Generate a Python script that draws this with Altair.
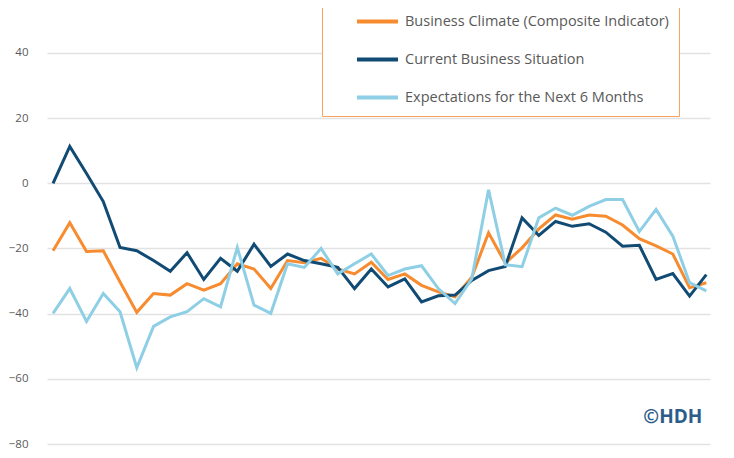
import altair as alt
import pandas as pd

series_names = [
    "Business Climate (Composite Indicator)",
    "Current Business Situation",
    "Expectations for the Next 6 Months",
]
series_colors = ["#F78B2F", "#114B74", "#8ECFE6"]

business_climate = [
    -20.7, -12.1, -20.9, -20.7, -30.3, -39.6, -33.8, -34.3, -30.8, -32.8,
    -30.8, -24.7, -26.3, -32.3, -23.7, -24.4, -23.0, -26.3, -27.8, -24.2,
    -29.5, -27.8, -31.3, -33.3, -34.8, -28.8, -15.2, -24.5, -19.8, -14.0,
    -9.7, -11.0, -9.7, -10.1, -12.8, -17.0, -19.2, -21.7, -32.0, -30.5,
]
current_situation = [
    0.0, 11.3, 3.0, -5.6, -19.7, -20.7, -23.7, -27.0, -21.3, -29.5,
    -23.0, -27.0, -18.7, -25.5, -21.7, -23.7, -24.7, -25.8, -32.3, -26.3,
    -31.8, -29.3, -36.4, -34.5, -34.3, -29.8, -26.8, -25.5, -10.6, -16.0,
    -11.7, -13.2, -12.4, -15.0, -19.3, -19.0, -29.5, -27.7, -34.6, -28.0,
]
expectations = [
    -39.9, -32.3, -42.4, -33.8, -39.4, -56.6, -43.9, -41.0, -39.4, -35.4,
    -37.9, -19.7, -37.4, -39.9, -24.7, -25.8, -20.0, -27.8, -24.7, -21.7,
    -28.3, -26.3, -25.3, -32.3, -36.9, -29.3, -2.0, -25.0, -25.6, -10.6,
    -7.6, -9.8, -7.1, -5.0, -5.0, -14.8, -8.0, -16.2, -30.5, -33.0,
]

rows = []
for name, vals in zip(series_names, [business_climate, current_situation, expectations]):
    for i, v in enumerate(vals):
        rows.append({"period": i, "series": name, "value": v})
df = pd.DataFrame(rows)

font = "Open Sans"
gray = "#595959"

chart = alt.Chart(df).mark_line(strokeWidth=3).encode(
    x=alt.X("period:Q", axis=None,
            scale=alt.Scale(domain=[-0.36, 39.22], nice=False, zero=False)),
    y=alt.Y("value:Q", title=None,
            scale=alt.Scale(domain=[-80, 53.8], nice=False),
            axis=alt.Axis(values=[-80, -60, -40, -20, 0, 20, 40], grid=True,
                          gridColor="#e2e2e2", gridWidth=1.6, domain=False,
                          ticks=False, labelPadding=19, labelFont=font,
                          labelFontSize=11.5, labelColor=gray)),
    color=alt.Color("series:N", sort=series_names,
                    scale=alt.Scale(domain=series_names, range=series_colors),
                    legend=alt.Legend(title=None, orient="none", legendX=275,
                                      legendY=-19, symbolType="stroke",
                                      symbolSize=1681, symbolStrokeWidth=4,
                                      symbolOffset=23, labelOffset=5,
                                      labelFont=font, labelFontSize=14.5,
                                      labelColor=gray, labelLimit=400,
                                      rowPadding=7, padding=10,
                                      strokeColor="#F7A55E", fillColor="white")),
    detail="series:N",
).properties(
    width=663,
    height=436,
    padding={"left": 39, "top": 0, "right": 16, "bottom": 6},
    autosize=alt.AutoSizeParams(type="none"),
    title=alt.TitleParams("©HDH", orient="bottom", anchor="end", offset=-42,
                          dx=-10, font=font, fontSize=19, fontWeight="bold",
                          color="#2C5C8A"),
).configure_view(stroke=None)

chart.save("out.html", embed_options={"renderer": "svg", "actions": False})
